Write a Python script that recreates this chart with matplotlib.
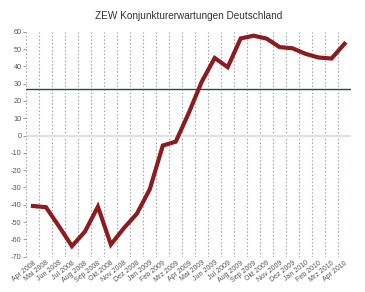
import matplotlib
matplotlib.use("Agg")
import matplotlib.pyplot as plt
import numpy as np

plt.rcParams['font.family'] = ['Liberation Sans', 'DejaVu Sans']

months = ["Apr 2008", "Mai 2008", "Jun 2008", "Jul 2008", "Aug 2008", "Sep 2008",
          "Okt 2008", "Nov 2008", "Dez 2008", "Jan 2009", "Feb 2009", "Mrz 2009",
          "Apr 2009", "Mai 2009", "Jun 2009", "Jul 2009", "Aug 2009", "Sep 2009",
          "Okt 2009", "Nov 2009", "Dez 2009", "Jan 2010", "Feb 2010", "Mrz 2010",
          "Apr 2010"]
values = [-40.7, -41.4, -52.4, -63.9, -55.5, -41.1, -63.0, -53.5, -45.2, -31.0,
          -5.8, -3.5, 13.0, 31.1, 44.8, 39.5, 56.1, 57.7, 56.0, 51.1, 50.4, 47.2,
          45.1, 44.5, 53.0]
average = 26.7
yticks = list(range(-70, 61, 10))

fig = plt.figure(figsize=(3.65, 2.92), dpi=100)
ax = fig.add_axes([26.5/365, 1-256.7/292, (351-26.5)/365, (256.7-31.7)/292])

x = np.arange(len(months))
ax.set_xlim(-0.5, len(months) - 0.5)
ax.set_ylim(-70, 60)

# vertical dotted gridlines at category boundaries
for b in np.arange(-0.5, len(months), 1.0):
    ax.axvline(b, color="#8a8a8a", lw=0.8, ls=(0, (1, 2.2)), zorder=1)

ax.axhline(0, color="#e2e2e2", lw=1.6, zorder=1.5)
ax.axhline(average, color="#1d4a6e", lw=1.0, zorder=2)

ax.plot(x, values, color="#8c1c20", lw=3.0, solid_joinstyle="miter", zorder=3)

for s in ax.spines.values():
    s.set_visible(False)

ax.set_yticks(yticks)
ax.set_yticklabels([str(v) for v in yticks], fontsize=5.3, color="#555555")
ax.tick_params(axis="y", length=2.5, width=0.6, color="#888888", pad=1)
ax.set_xticks(x)
ax.set_xticklabels(months, rotation=38, ha="right", va="top", rotation_mode="anchor",
                   fontsize=5.0, color="#555555")
ax.tick_params(axis="x", length=0, pad=2)

fig.text(189/365, 1-16/292, "ZEW Konjunkturerwartungen Deutschland", ha="center",
         va="center", fontsize=7.2, color="#333333")

fig.savefig("out.png", dpi=100)
